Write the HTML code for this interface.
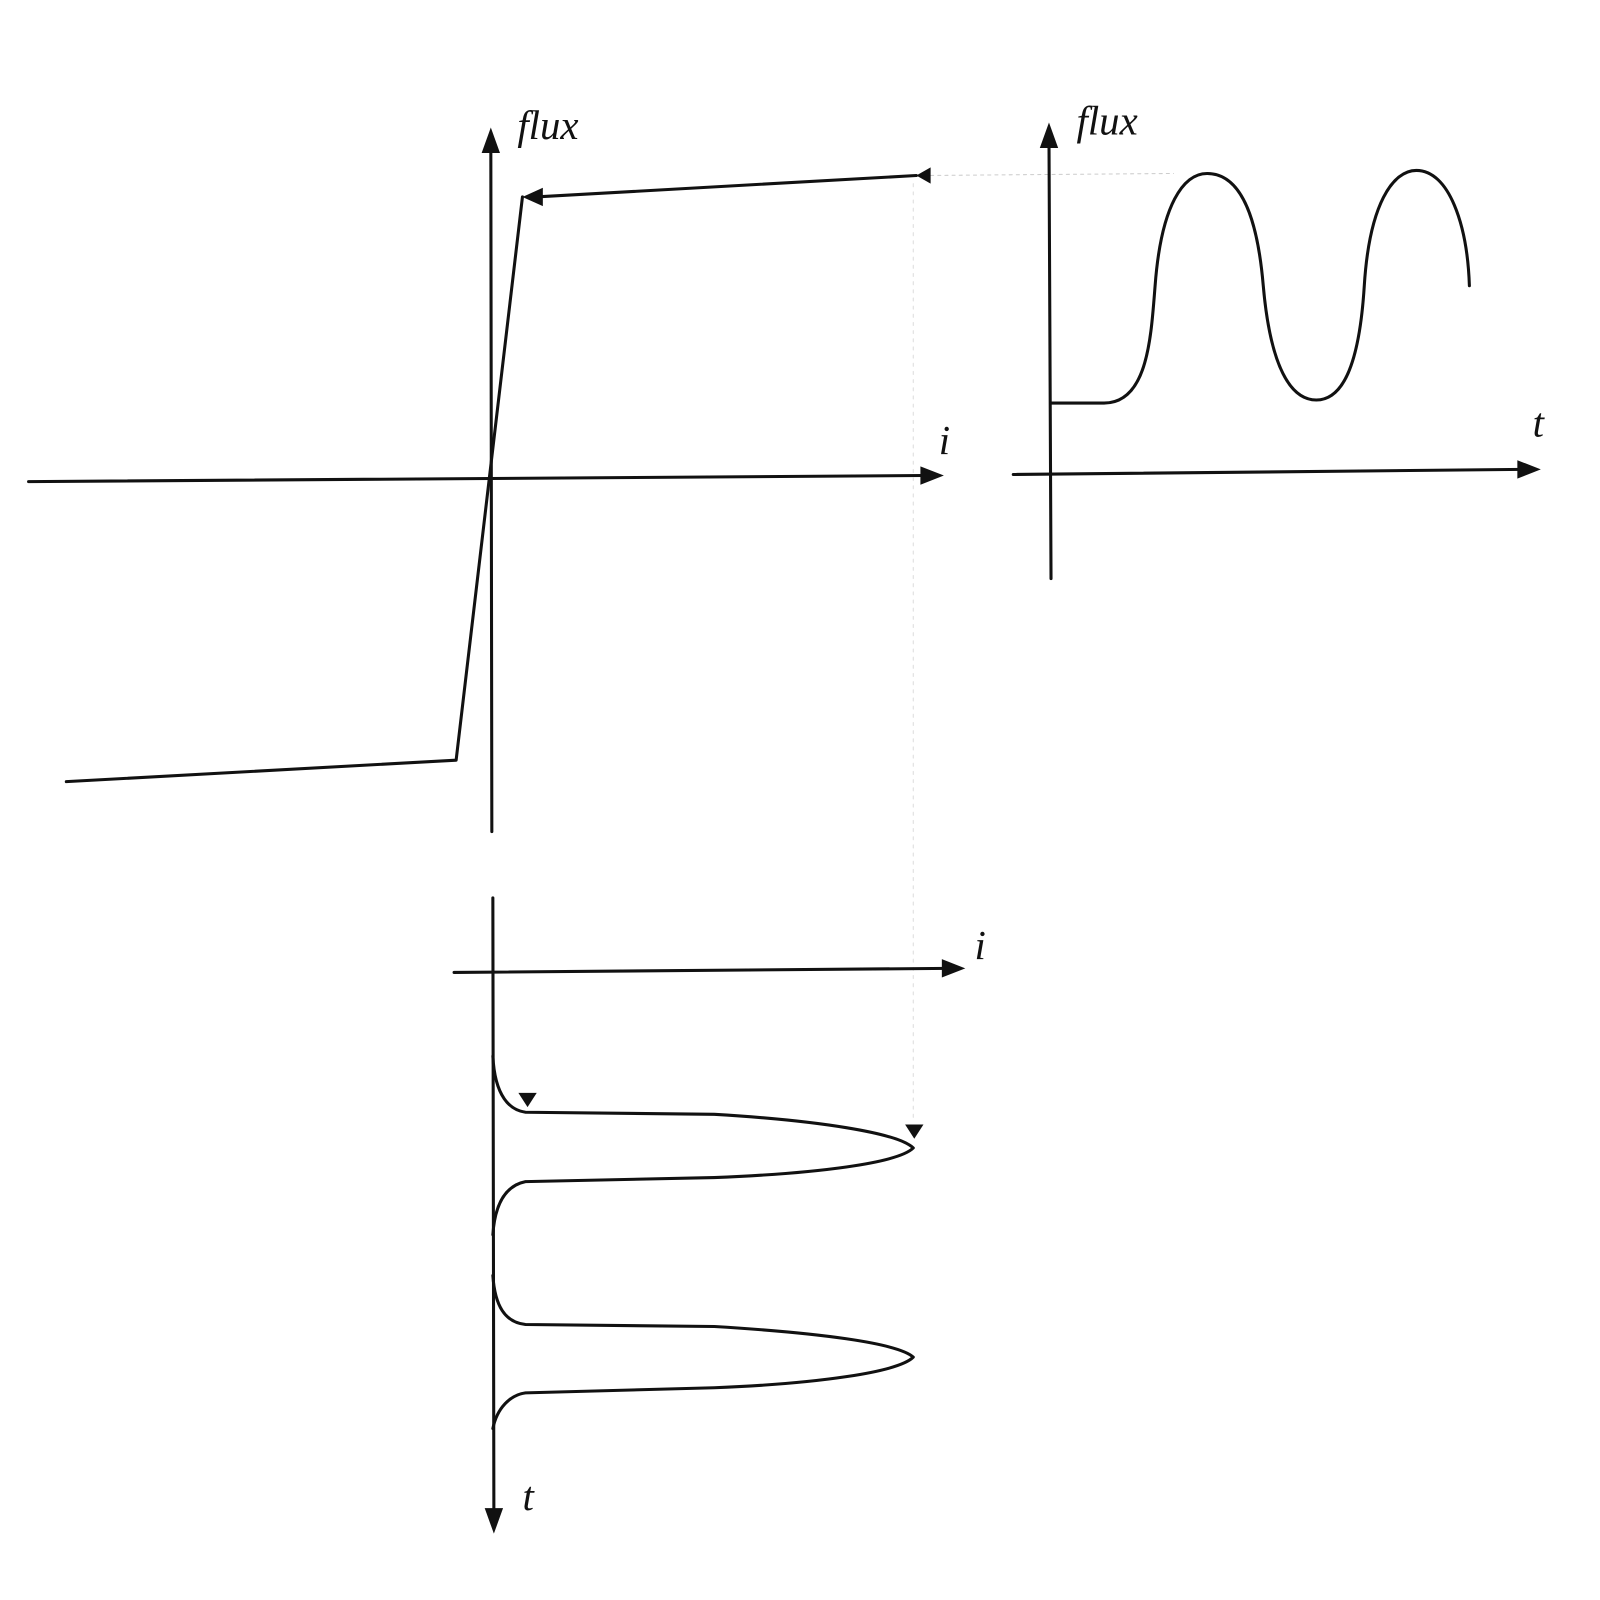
<!DOCTYPE html>
<html><head><style>html,body{margin:0;padding:0;background:#fff;}svg{display:block}</style></head>
<body>
<svg width="1600" height="1600" viewBox="0 0 1568 1568" xmlns="http://www.w3.org/2000/svg">
<g stroke="#111" stroke-width="3" fill="none" stroke-linecap="round" stroke-linejoin="round">
<!-- left graph axes -->
<line x1="481" y1="140" x2="482" y2="815"/>
<line x1="28" y1="472" x2="905" y2="466"/>
<!-- magnetization curve -->
<polyline points="898,172 525,193"/>
<polyline points="512,193 447,745 65,766"/>
<!-- faint dotted guide -->
<line x1="905" y1="172" x2="1150" y2="170" stroke="#ccc" stroke-width="1" stroke-dasharray="3,4"/>
<line x1="895" y1="180" x2="895" y2="1100" stroke="#ddd" stroke-width="1" stroke-dasharray="3,5"/>
<!-- right graph axes -->
<line x1="1028" y1="135" x2="1030" y2="567"/>
<line x1="993" y1="465" x2="1492" y2="460"/>
<!-- sine -->
<path d="M1030,395 L1082,395 C1125,395 1128,330 1132,280 C1138,200 1160,170 1183,170 C1215,170 1232,210 1238,280 C1245,360 1265,392 1290,392 C1315,392 1332,360 1337,280 C1342,200 1365,167 1388,167 C1420,167 1438,220 1440,280"/>
<!-- bottom graph axes -->
<line x1="483" y1="880" x2="484" y2="1485"/>
<line x1="445" y1="953" x2="928" y2="949"/>
<!-- current waveform -->
<path d="M483,1035 C485,1075 500,1088 515,1090 L700,1092 C800,1098 880,1110 895,1125 C880,1140 800,1150 700,1154 L515,1158 C495,1162 485,1180 483,1210"/>
<path d="M483,1250 C485,1280 495,1296 515,1298 L700,1300 C800,1306 880,1316 895,1330 C880,1345 800,1356 700,1360 L515,1365 C500,1367 487,1380 483,1400"/>
</g>
<g fill="#111" stroke="none">
<!-- arrowheads -->
<polygon points="481,125 472,150 490,150"/>
<polygon points="925,466 902,457 902,475"/>
<polygon points="512,193 532,184 532,202"/>
<polygon points="898,172 912,164 912,180"/>
<polygon points="1028,120 1019,145 1037,145"/>
<polygon points="1510,460 1487,451 1487,469"/>
<polygon points="946,949 923,940 923,958"/>
<polygon points="484,1503 475,1478 493,1478"/>
<polygon points="508,1071 526,1071 517,1085"/>
<polygon points="887,1102 905,1102 896,1116"/>
</g>
<g font-family="Liberation Serif, serif" font-style="italic" font-size="40" fill="#111">
<text x="507" y="136">flux</text>
<text x="1055" y="132">flux</text>
<text x="920" y="445">i</text>
<text x="1502" y="428">t</text>
<text x="955" y="940">i</text>
<text x="512" y="1480">t</text>
</g>
</svg>
</body></html>
